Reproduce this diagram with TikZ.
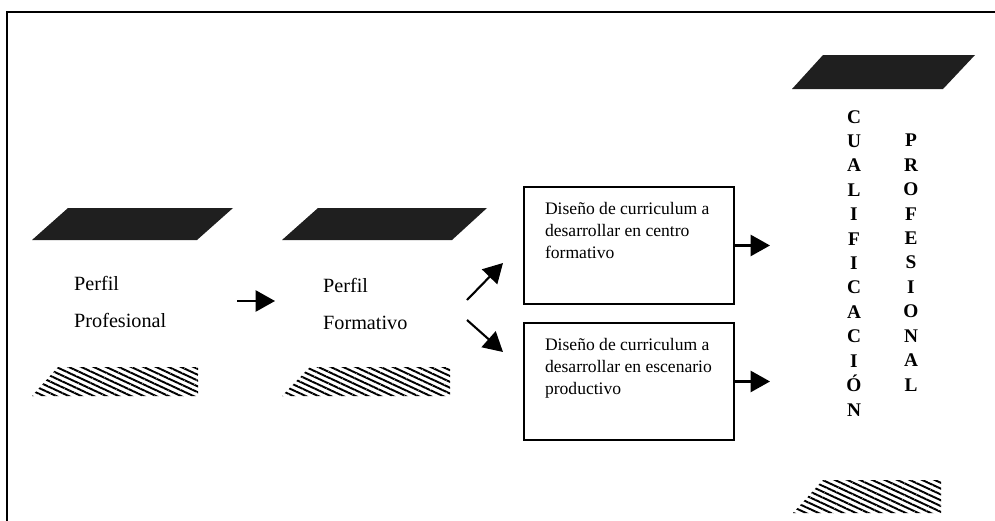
\documentclass[tikz,border=0pt]{standalone}
\usepackage{fontspec}
\setmainfont{Liberation Serif}
\usetikzlibrary{positioning,arrows.meta,patterns.meta}

\begin{document}
\begin{tikzpicture}[
x=0.02cm, y=-0.02cm,
frame/.style={line width=1.2pt},
box/.style={draw, line width=1.1pt, anchor=north west, inner xsep=12pt, inner ysep=9pt, font=\fontsize{10}{12.5}\selectfont},
arrow/.style={-{Triangle[length=11pt,width=12pt]}, line width=1.2pt},
dark/.style={fill=black!88},
hatch/.style={pattern={Lines[angle=-25,distance=3pt,line width=1.1pt]}},
perfil/.style={anchor=west, align=left, font=\fontsize{11.5}{21.5}\selectfont},
vert/.style={anchor=north, align=center, font=\fontsize{11}{13.9}\selectfont\bfseries}
]
\useasboundingbox (0,0) rectangle (995,521);
\draw[frame] (7,521) -- (7,12) -- (995,12);

% plain shapes above and below each column
\fill[dark] (32,240) -- (197,240) -- (233,208) -- (68,208) -- cycle;
\fill[dark] (282,240) -- (452,240) -- (487,208) -- (318,208) -- cycle;
\fill[dark] (792,89) -- (943,89) -- (975,55) -- (823,55) -- cycle;
\fill[hatch] (32,396) -- (198,396) -- (198,367) -- (58,367) -- cycle;
\fill[hatch] (282,396) -- (450,396) -- (450,367) -- (310,367) -- cycle;
\fill[hatch] (793,513) -- (941,513) -- (941,480) -- (823,480) -- cycle;

\node[perfil] (prof) at (68,302) {Perfil\\Profesional};
\node[perfil] (form) at (317,304) {Perfil\\Formativo};

\node[box] (centro) at (523,186) {\parbox[t][48.6pt][t]{95.5pt}{\raggedright Diseño de curriculum a\\desarrollar en centro\\formativo}};
\node[box] (escen) at (523,322) {\parbox[t][48.6pt][t]{95.5pt}{\raggedright Diseño de curriculum a\\desarrollar en escenario\\productivo}};

\node[vert] (cual) at (854,104) {C\\U\\A\\L\\I\\F\\I\\C\\A\\C\\I\\Ó\\N};
\node[vert] (pro) at (911,128) {P\\R\\O\\F\\E\\S\\I\\O\\N\\A\\L};

% arrow ends
\coordinate (p1) at (237,301);
\coordinate (p2) at (275,301);
\coordinate (d0) at (467,300);
\coordinate (d1) at (503,263);
\coordinate (e0) at (467,320);
\coordinate (e1) at (503,352);
\coordinate (tip) at (770,0);

\draw[arrow] (p1) -- (p2);
\draw[arrow] (d0) -- (d1);
\draw[arrow] (e0) -- (e1);
\draw[arrow] (centro.east) -- (centro.east -| tip);
\draw[arrow] (escen.east) -- (escen.east -| tip);
\end{tikzpicture}
\end{document}
